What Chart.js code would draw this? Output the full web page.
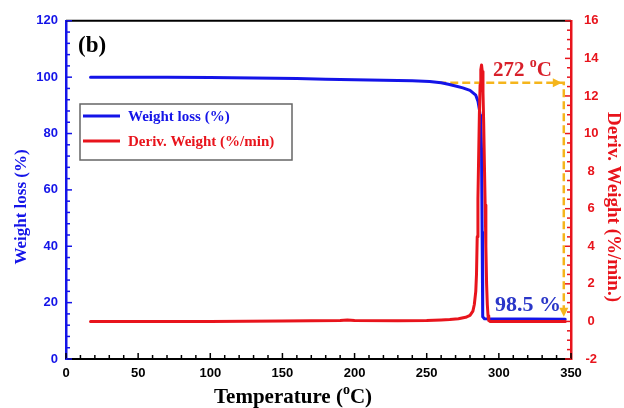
<!DOCTYPE html>
<html>
<head>
<meta charset="utf-8">
<script src="https://cdn.jsdelivr.net/npm/chart.js@4"></script>
<style>
  html, body { margin: 0; padding: 0; background: #fff; }
</style>
</head>
<body>
<canvas id="tgaChart" width="624" height="408"></canvas>
<script>
// TGA curve (left axis)
var tempW  = [17, 40, 70, 100, 130, 160, 180, 200, 220, 240, 252, 260, 265, 270.7, 275, 280, 284, 285.5, 286.5, 287, 287.5, 288, 288.4, 288.8, 290, 300, 320, 346];
var weight = [100, 100, 100, 99.9, 99.7, 99.5, 99.3, 99.1, 98.9, 98.7, 98.5, 98.0, 97.5, 96.8, 96.2, 95.3, 93.6, 91.5, 88.5, 86.5, 83, 74, 45, 15, 14.3, 14.2, 14.2, 14.1];

// DTG curve (right axis)
var tempD = [17, 50, 100, 150, 190, 195, 200, 230, 250, 260, 266, 272, 277, 280, 282, 283, 284, 284.5, 285, 285.5, 286, 286.5, 287, 287.5, 288, 288.5, 289, 289.5, 290, 290.5, 291, 291.5, 292, 292.5, 293, 294, 320, 346];
var deriv = [0, 0, 0, 0.02, 0.05, 0.08, 0.05, 0.04, 0.05, 0.08, 0.1, 0.14, 0.22, 0.32, 0.55, 0.9, 1.6, 2.5, 4.5, 6.5, 8.8, 11, 12.6, 13.4, 13.65, 13.3, 12.2, 10.5, 8.3, 6.2, 4.0, 2.0, 0.9, 0.3, 0.05, 0, 0, 0];

// dashed guide arrow (right axis units)
var arrowX = [258, 345, 345];
var arrowY = [12.7, 12.7, 0.25];

// major tick labels
var xMajor = [0, 50, 100, 150, 200, 250, 300, 350];
var yMajor = [0, 20, 40, 60, 80, 100, 120];
var y1Major = [-2, 0, 2, 4, 6, 8, 10, 12, 14, 16];

var BLUE = '#1414e8';
var RED = '#e8141c';
var GOLD = '#f5b51c';

function toPoints(xs, ys) {
    return xs.map(function(x, i) { return { x: x, y: ys[i] }; });
}

function isMajor(list, v) {
    return list.some(function(m) { return Math.abs(m - v) < 1e-6; });
}

function tickLabel(list) {
    return function(value) { return isMajor(list, value) ? value : ''; };
}

// draw a string made of parts, some as superscript
function drawParts(ctx, parts, x, y, color) {
    ctx.fillStyle = color;
    ctx.textAlign = 'left';
    ctx.textBaseline = 'alphabetic';
    parts.forEach(function(p) {
        ctx.font = 'bold ' + p.size + 'px "Liberation Serif", serif';
        ctx.fillText(p.t, x, y + (p.dy || 0));
        x += ctx.measureText(p.t).width;
    });
}

var decorations = {
    id: 'decorations',
    afterDatasetsDraw: function(chart) {
        var ctx = chart.ctx, a = chart.chartArea;
        var sx = chart.scales.x, sy = chart.scales.y, sy1 = chart.scales.y1;
        ctx.save();

        // top frame line
        ctx.strokeStyle = '#000';
        ctx.lineWidth = 2;
        ctx.beginPath();
        ctx.moveTo(a.left, a.top);
        ctx.lineTo(a.right, a.top);
        ctx.stroke();

        // inward ticks
        ctx.lineWidth = 1.5;
        ctx.strokeStyle = '#000';
        sx.ticks.forEach(function(t) {
            var px = sx.getPixelForValue(t.value);
            var len = isMajor(xMajor, t.value) ? 6 : 4;
            ctx.beginPath();
            ctx.moveTo(px, a.bottom);
            ctx.lineTo(px, a.bottom - len);
            ctx.stroke();
        });
        ctx.strokeStyle = BLUE;
        sy.ticks.forEach(function(t) {
            var py = sy.getPixelForValue(t.value);
            var len = isMajor(yMajor, t.value) ? 6 : 4;
            ctx.beginPath();
            ctx.moveTo(a.left, py);
            ctx.lineTo(a.left + len, py);
            ctx.stroke();
        });
        ctx.strokeStyle = RED;
        sy1.ticks.forEach(function(t) {
            var py = sy1.getPixelForValue(t.value);
            var len = isMajor(y1Major, t.value) ? 6 : 4;
            ctx.beginPath();
            ctx.moveTo(a.right, py);
            ctx.lineTo(a.right - len, py);
            ctx.stroke();
        });

        // arrow heads on the dashed guide
        ctx.fillStyle = GOLD;
        var hx = sx.getPixelForValue(arrowX[1]) - 2, hy = sy1.getPixelForValue(arrowY[1]);
        ctx.beginPath();
        ctx.moveTo(hx, hy);
        ctx.lineTo(hx - 9, hy - 4.5);
        ctx.lineTo(hx - 9, hy + 4.5);
        ctx.closePath();
        ctx.fill();
        var vx = sx.getPixelForValue(arrowX[2]), vy = sy1.getPixelForValue(arrowY[2]);
        ctx.beginPath();
        ctx.moveTo(vx, vy);
        ctx.lineTo(vx - 4.5, vy - 9);
        ctx.lineTo(vx + 4.5, vy - 9);
        ctx.closePath();
        ctx.fill();

        // panel letter
        drawParts(ctx, [{ t: '(b)', size: 23 }], 78, 52, '#000');

        // annotations
        drawParts(ctx, [{ t: '272 ', size: 21 }, { t: 'o', size: 14, dy: -9 }, { t: 'C', size: 21 }], 493, 76, '#d8202a');
        drawParts(ctx, [{ t: '98.5 %', size: 22 }], 495, 311, '#2a36c8');

        // legend box
        ctx.fillStyle = '#fff';
        ctx.fillRect(80, 104, 212, 56);
        ctx.strokeStyle = '#666';
        ctx.lineWidth = 1.5;
        ctx.strokeRect(80, 104, 212, 56);
        var legendRows = [
            { label: chart.data.datasets[1].label, color: BLUE, y: 116 },
            { label: chart.data.datasets[0].label, color: RED, y: 141 }
        ];
        legendRows.forEach(function(r) {
            ctx.strokeStyle = r.color;
            ctx.lineWidth = 3;
            ctx.beginPath();
            ctx.moveTo(83, r.y);
            ctx.lineTo(120, r.y);
            ctx.stroke();
            drawParts(ctx, [{ t: r.label, size: 15 }], 128, r.y + 5, r.color);
        });

        // axis titles
        ctx.font = 'bold 17px "Liberation Serif", serif';
        ctx.fillStyle = BLUE;
        ctx.textAlign = 'center';
        ctx.textBaseline = 'middle';
        ctx.save();
        ctx.translate(22, 207);
        ctx.rotate(-Math.PI / 2);
        ctx.fillText('Weight loss (%)', 0, 0);
        ctx.restore();

        ctx.font = 'bold 19px "Liberation Serif", serif';
        ctx.fillStyle = RED;
        ctx.save();
        ctx.translate(613, 207);
        ctx.rotate(Math.PI / 2);
        ctx.fillText('Deriv. Weight (%/min.)', 0, 0);
        ctx.restore();

        drawParts(ctx, [{ t: 'Temperature (', size: 21 }, { t: 'o', size: 14, dy: -9 }, { t: 'C)', size: 21 }], 214, 403, '#000');

        ctx.restore();
    }
};

var tickFont = { family: '"Liberation Sans", Arial, sans-serif', size: 13, weight: 'bold' };

new Chart(document.getElementById('tgaChart').getContext('2d'), {
    type: 'line',
    data: {
        datasets: [{
            label: 'Deriv. Weight (%/min)',
            data: toPoints(tempD, deriv),
            yAxisID: 'y1',
            borderColor: RED,
            borderWidth: 3,
            borderJoinStyle: 'round',
            borderCapStyle: 'round',
            pointRadius: 0,
            tension: 0,
            order: 0
        }, {
            label: 'Weight loss (%)',
            data: toPoints(tempW, weight),
            yAxisID: 'y',
            borderColor: BLUE,
            borderWidth: 3,
            borderJoinStyle: 'round',
            borderCapStyle: 'round',
            pointRadius: 0,
            tension: 0,
            order: 1
        }, {
            label: 'guide',
            data: toPoints(arrowX, arrowY),
            yAxisID: 'y1',
            borderColor: GOLD,
            borderWidth: 2.5,
            borderDash: [8, 4],
            pointRadius: 0,
            tension: 0,
            order: 2
        }]
    },
    options: {
        responsive: false,
        animation: false,
        devicePixelRatio: 1,
        layout: {
            padding: { top: 18, left: 0, right: 0, bottom: 0 }
        },
        plugins: {
            legend: { display: false },
            tooltip: { enabled: false }
        },
        scales: {
            x: {
                type: 'linear',
                min: 0,
                max: 350,
                ticks: {
                    stepSize: 10,
                    autoSkip: false,
                    maxRotation: 0,
                    padding: 7,
                    color: '#000',
                    font: tickFont,
                    callback: tickLabel(xMajor)
                },
                grid: { display: false, drawTicks: false },
                border: { color: '#000', width: 2 },
                afterFit: function(scale) { scale.height = 49; }
            },
            y: {
                position: 'left',
                min: 0,
                max: 120,
                ticks: {
                    stepSize: 4,
                    autoSkip: false,
                    padding: 8,
                    color: BLUE,
                    font: tickFont,
                    callback: tickLabel(yMajor)
                },
                grid: { display: false, drawTicks: false },
                border: { color: BLUE, width: 2.5 },
                afterFit: function(scale) { scale.width = 66; }
            },
            y1: {
                position: 'right',
                min: -2,
                max: 16,
                ticks: {
                    stepSize: 0.5,
                    autoSkip: false,
                    padding: 13,
                    crossAlign: 'center',
                    color: RED,
                    font: tickFont,
                    callback: tickLabel(y1Major)
                },
                grid: { display: false, drawTicks: false },
                border: { color: RED, width: 2.5 },
                afterFit: function(scale) { scale.width = 53; }
            }
        }
    },
    plugins: [decorations]
});
</script>
</body>
</html>
